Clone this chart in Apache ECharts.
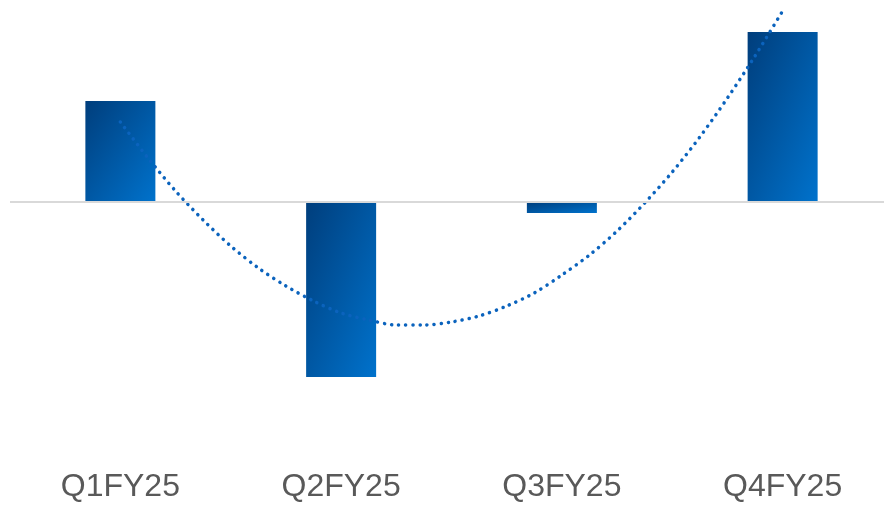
<!DOCTYPE html>
<html>
<head>
<meta charset="utf-8">
<script src="https://cdn.jsdelivr.net/npm/echarts@6/dist/echarts.min.js"></script>
<style>html,body{margin:0;padding:0;background:#fff}#c{width:884px;height:505px}</style>
</head>
<body>
<div id="c"></div>
<script>
// Data (arbitrary units)
var categories = ['Q1FY25', 'Q2FY25', 'Q3FY25', 'Q4FY25'];
var barValues = [101, -175, -11, 170];
// Dotted trendline at eighth-category steps
var trendX = [1, 1.125, 1.25, 1.375, 1.5, 1.625, 1.75, 1.875, 2, 2.125, 2.25, 2.375, 2.5,
              2.625, 2.75, 2.875, 3, 3.125, 3.25, 3.375, 3.5, 3.625, 3.75, 3.875, 4];
var trendY = [80, 44, 11, -18, -44, -66, -84, -99, -111, -118, -123, -123, -120,
              -114, -104, -91, -73, -53, -29, -1, 30, 65, 104, 146, 191];

var BAR_W = 70;
var chart = echarts.init(document.getElementById('c'), null, {renderer: 'canvas'});
var trendData = trendX.map(function (x, i) { return [x, trendY[i]]; });

function buildOption(barData) {
  return {
    animation: false,
    grid: {left: 10, top: 2, width: 883, height: 400, containLabel: false, outerBoundsMode: 'none'},
    xAxis: [{
      type: 'category',
      data: categories,
      axisLine: {show: false},
      axisTick: {show: false},
      axisLabel: {color: '#595959', fontSize: 32, fontFamily: 'Liberation Sans, Arial, sans-serif', margin: 69}
    }, {
      type: 'value', min: 0.5, max: 4.5, show: false
    }],
    yAxis: {type: 'value', min: -200, max: 200, show: false, splitLine: {show: false}},
    series: [{
      type: 'bar',
      data: barData,
      barWidth: BAR_W,
      itemStyle: {color: '#005aa8'},
      markLine: {
        silent: true,
        symbol: 'none',
        label: {show: false},
        lineStyle: {color: '#d9d9d9', width: 2, type: 'solid'},
        data: [{yAxis: 0}]
      },
      z: 2
    }, {
      type: 'line',
      xAxisIndex: 1,
      data: trendData,
      smooth: 0.3,
      showSymbol: false,
      lineStyle: {color: '#0b63bd', width: 3.5, type: [0.1, 7], cap: 'round'},
      z: 3
    }]
  };
}

chart.setOption(buildOption(barValues));

// Diagonal gradient scaled with each bar's shape (corner to corner)
var zeroPx = chart.convertToPixel({yAxisIndex: 0}, 0);
var styled = barValues.map(function (v) {
  var h = Math.max(1, Math.abs(chart.convertToPixel({yAxisIndex: 0}, v) - zeroPx));
  var w = BAR_W;
  var s = h * h + w * w;
  var x2 = 2 * h * h / s, y2 = 2 * w * w / s;
  return {
    value: v,
    itemStyle: {
      color: new echarts.graphic.LinearGradient(0, 0, x2, y2, [
        {offset: 0, color: '#003e7c'},
        {offset: 1, color: '#0072cc'}
      ])
    }
  };
});
chart.setOption(buildOption(styled));
</script>
</body>
</html>
